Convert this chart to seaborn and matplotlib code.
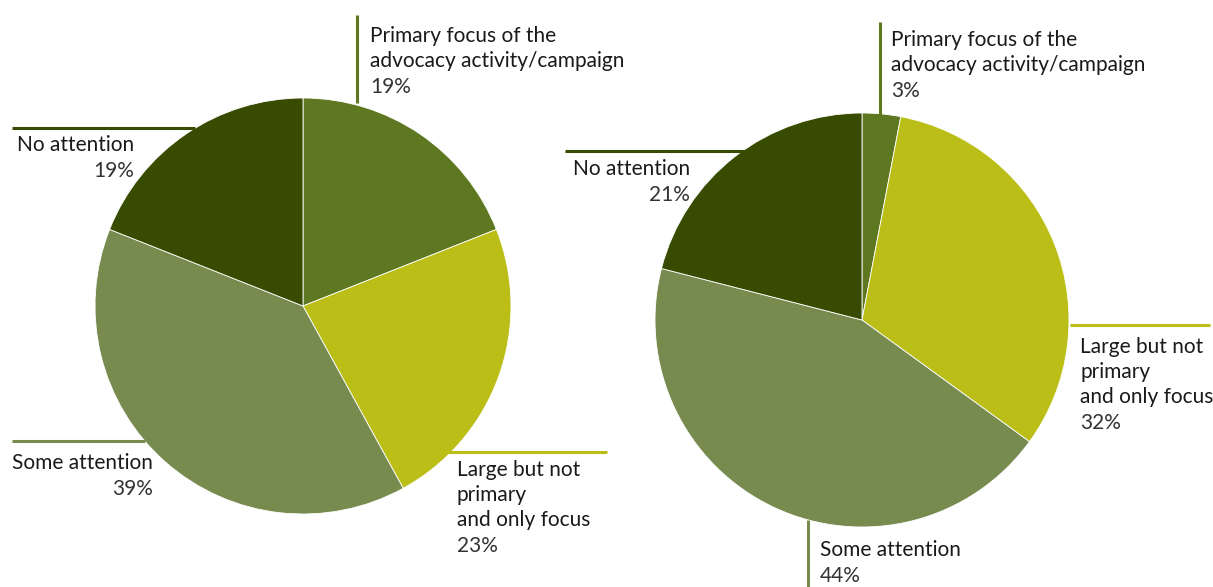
import matplotlib
matplotlib.use("Agg")
import matplotlib.pyplot as plt
import seaborn as sns

# Attention given to the topic, two groups of advocacy activities
categories = ["Primary focus of the\nadvocacy activity/campaign",
              "Large but not\nprimary\nand only focus",
              "Some attention",
              "No attention"]
left_values = [19, 23, 39, 19]
right_values = [3, 32, 44, 21]
colors = ["#5e7821", "#bcbe18", "#778b4f", "#374c00"]

sns.set_theme(style="white")
plt.rcParams["font.family"] = ["Lato", "DejaVu Sans"]

W, H = 1213, 587
fig = plt.figure(figsize=(W / 100, H / 100), dpi=100)
ax = fig.add_axes([0, 0, 1, 1])

def Y(y):
    return H - y

def draw_pie(values, cx, cy, r):
    ax.pie(values, colors=colors, startangle=90, counterclock=False,
           center=(cx, Y(cy)), radius=r,
           wedgeprops=dict(edgecolor="white", linewidth=0.6))

draw_pie(left_values, 303, 306, 208)
draw_pie(right_values, 862, 320, 207)

ax.set_xlim(0, W)
ax.set_ylim(0, H)
ax.set_aspect("equal")
ax.axis("off")

TXT = "#1a1a1a"
FS = 15
LH = 25

def leader(xs, ys, c):
    ax.plot(xs, [Y(v) for v in ys], color=c, lw=2.2, solid_capstyle="butt")

def label(x, y0, name, value, pct_right=False):
    lines = name.split("\n")
    texts = []
    for i, ln in enumerate(lines):
        t = ax.text(x, Y(y0 + i * LH), ln, fontsize=FS, color=TXT,
                    ha="left", va="baseline")
        texts.append(t)
    py = Y(y0 + len(lines) * LH + 1)
    if pct_right:
        fig.canvas.draw()
        rend = fig.canvas.get_renderer()
        right = max(t.get_window_extent(rend).x1 for t in texts)
        ax.text(right, py, f"{value}%", fontsize=FS, color="#333333",
                ha="right", va="baseline")
    else:
        ax.text(x, py, f"{value}%", fontsize=FS, color="#333333",
                ha="left", va="baseline")

# left pie
leader([357, 357], [15, 103], colors[0])
label(370, 42, categories[0], left_values[0])
leader([420, 607], [452, 452], colors[1])
label(457, 476, categories[1], left_values[1])
leader([12, 145], [441, 441], colors[2])
label(12, 469, categories[2], left_values[2], pct_right=True)
leader([12, 195], [128, 128], colors[3])
label(17, 151, categories[3], left_values[3], pct_right=True)

# right pie
leader([880, 880], [22, 115], colors[0])
label(891, 46, categories[0], right_values[0])
leader([1070, 1210], [325, 325], colors[1])
label(1080, 353, categories[1], right_values[1])
leader([808, 808], [520, 587], colors[2])
label(820, 556, categories[2], right_values[2])
leader([565, 745], [151, 151], colors[3])
label(573, 175, categories[3], right_values[3], pct_right=True)

fig.savefig("out.png", dpi=100, facecolor="white")
